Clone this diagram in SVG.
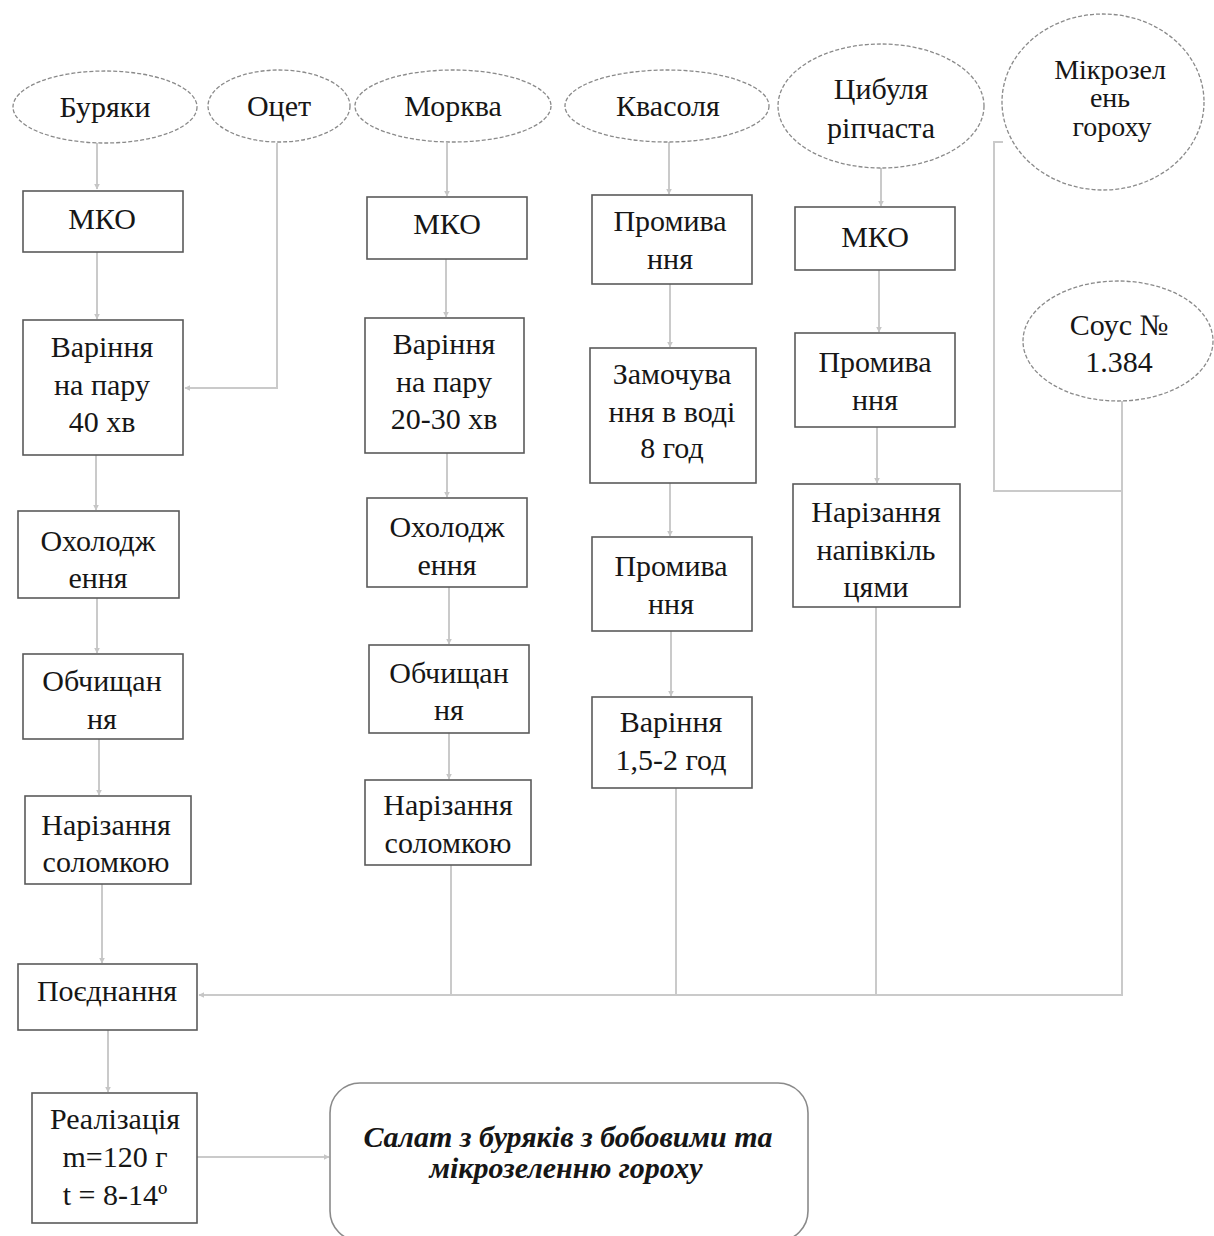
<svg xmlns="http://www.w3.org/2000/svg" width="1214" height="1236" viewBox="0 0 1214 1236">
<defs>
<marker id="arr" viewBox="0 0 10 10" refX="9" refY="5" markerWidth="6" markerHeight="6" orient="auto" markerUnits="userSpaceOnUse">
<path d="M0,0 L10,5 L0,10 z" fill="#c6c6c6"/>
</marker>
<style>
text{font-family:"Liberation Serif","Times New Roman",serif;font-size:30px;fill:#161616;text-anchor:middle}
.el{fill:#fff;stroke:#8a8a8a;stroke-width:1.3;stroke-dasharray:4 2}
.bx{fill:#fff;stroke:#5a5a5a;stroke-width:1.6}
.cn{fill:none;stroke:#cacaca;stroke-width:2}
.ar{marker-end:url(#arr)}
.res{font-weight:bold;font-style:italic;font-size:30px}
.sm{font-size:28px}
</style>
</defs>
<rect width="1214" height="1236" fill="#fff"/>

<g id="connectors">
<path class="cn ar" d="M97 143 V189"/>
<path class="cn ar" d="M277 143 V388 H185"/>
<path class="cn ar" d="M97 252 V319"/>
<path class="cn ar" d="M96 455 V510"/>
<path class="cn ar" d="M97 598 V653"/>
<path class="cn ar" d="M99 739 V795"/>
<path class="cn ar" d="M102 884 V963"/>
<path class="cn ar" d="M108 1030 V1092"/>
<path class="cn ar" d="M197 1157 H329"/>
<path class="cn ar" d="M447 143 V196"/>
<path class="cn ar" d="M446 259 V317"/>
<path class="cn ar" d="M447 453 V497"/>
<path class="cn ar" d="M449 587 V644"/>
<path class="cn ar" d="M449 733 V779"/>
<path class="cn" d="M451 865 V995"/>
<path class="cn ar" d="M669 142 V194"/>
<path class="cn ar" d="M670 284 V347"/>
<path class="cn ar" d="M670 483 V536"/>
<path class="cn ar" d="M671 631 V696"/>
<path class="cn" d="M676 788 V995"/>
<path class="cn ar" d="M881 168 V206"/>
<path class="cn ar" d="M879 270 V332"/>
<path class="cn ar" d="M877 427 V483"/>
<path class="cn" d="M876 607 V995"/>
<path class="cn" d="M1003 142 H994 V491 H1122"/>
<path class="cn ar" d="M1122 401 V995 H199"/>
</g>

<g id="n-buryaky"><ellipse class="el" cx="105" cy="107" rx="92" ry="36"/><text x="105" y="117">Буряки</text></g>
<g id="n-otset"><ellipse class="el" cx="279" cy="106" rx="71" ry="36"/><text x="279" y="116">Оцет</text></g>
<g id="n-morkva"><ellipse class="el" cx="453" cy="106" rx="98" ry="36"/><text x="453" y="116">Морква</text></g>
<g id="n-kvasolya"><ellipse class="el" cx="667" cy="106" rx="102" ry="36"/><text x="668" y="116">Квасоля</text></g>
<g id="n-tsybulya"><ellipse class="el" cx="881" cy="106" rx="103" ry="62"/><text x="881" y="99">Цибуля</text><text x="881" y="138">ріпчаста</text></g>
<g id="n-mikrozelen"><ellipse class="el" cx="1103" cy="102" rx="101" ry="88"/><text class="sm" x="1110" y="79">Мікрозел</text><text class="sm" x="1110" y="107">ень</text><text class="sm" x="1112" y="136">гороху</text></g>
<g id="n-sous"><ellipse class="el" cx="1118" cy="341" rx="95" ry="60"/><text x="1119" y="335">Соус №</text><text x="1119" y="372">1.384</text></g>

<g id="n-c1-mko"><rect class="bx" x="23" y="191" width="160" height="61"/><text x="102" y="229">МКО</text></g>
<g id="n-c1-varinnya"><rect class="bx" x="23" y="320" width="160" height="135"/><text x="102" y="357">Варіння</text><text x="102" y="395">на пару</text><text x="102" y="432">40 хв</text></g>
<g id="n-c1-okholodzh"><rect class="bx" x="18" y="511" width="161" height="87"/><text x="98" y="551">Охолодж</text><text x="98" y="588">ення</text></g>
<g id="n-c1-obchyshch"><rect class="bx" x="23" y="654" width="160" height="85"/><text x="102" y="691">Обчищан</text><text x="102" y="729">ня</text></g>
<g id="n-c1-narizannya"><rect class="bx" x="25" y="796" width="166" height="88"/><text x="106" y="835">Нарізання</text><text x="106" y="872">соломкою</text></g>
<g id="n-poiednannya"><rect class="bx" x="18" y="964" width="179" height="66"/><text x="107" y="1001">Поєднання</text></g>
<g id="n-realizatsiya"><rect class="bx" x="32" y="1093" width="165" height="130"/><text x="115" y="1129">Реалізація</text><text x="115" y="1167">m=120 г</text><text x="115" y="1205">t = 8-14º</text></g>

<g id="n-c2-mko"><rect class="bx" x="367" y="197" width="160" height="62"/><text x="447" y="234">МКО</text></g>
<g id="n-c2-varinnya"><rect class="bx" x="365" y="318" width="159" height="135"/><text x="444" y="354">Варіння</text><text x="444" y="392">на пару</text><text x="444" y="429">20-30 хв</text></g>
<g id="n-c2-okholodzh"><rect class="bx" x="367" y="498" width="160" height="89"/><text x="447" y="537">Охолодж</text><text x="447" y="575">ення</text></g>
<g id="n-c2-obchyshch"><rect class="bx" x="369" y="645" width="160" height="88"/><text x="449" y="683">Обчищан</text><text x="449" y="720">ня</text></g>
<g id="n-c2-narizannya"><rect class="bx" x="365" y="780" width="166" height="85"/><text x="448" y="815">Нарізання</text><text x="448" y="853">соломкою</text></g>

<g id="n-c3-promyv1"><rect class="bx" x="592" y="195" width="160" height="89"/><text x="670" y="231">Промива</text><text x="670" y="269">ння</text></g>
<g id="n-c3-zamoch"><rect class="bx" x="590" y="348" width="166" height="135"/><text x="672" y="384">Замочува</text><text x="672" y="422">ння в воді</text><text x="672" y="458">8 год</text></g>
<g id="n-c3-promyv2"><rect class="bx" x="592" y="537" width="160" height="94"/><text x="671" y="576">Промива</text><text x="671" y="614">ння</text></g>
<g id="n-c3-varinnya"><rect class="bx" x="592" y="697" width="160" height="91"/><text x="671" y="732">Варіння</text><text x="671" y="770">1,5-2 год</text></g>

<g id="n-c4-mko"><rect class="bx" x="795" y="207" width="160" height="63"/><text x="875" y="247">МКО</text></g>
<g id="n-c4-promyv"><rect class="bx" x="795" y="333" width="160" height="94"/><text x="875" y="372">Промива</text><text x="875" y="410">ння</text></g>
<g id="n-c4-narizannya"><rect class="bx" x="793" y="484" width="167" height="123"/><text x="876" y="522">Нарізання</text><text x="876" y="560">напівкіль</text><text x="876" y="597">цями</text></g>

<g id="n-salat"><rect class="bx" x="330" y="1083" width="478" height="158" rx="30" ry="30" style="stroke:#8a8a8a"/><text class="res" x="568" y="1147">Салат з буряків з бобовими та</text><text class="res" x="566" y="1178">мікрозеленню гороху</text></g>
</svg>
